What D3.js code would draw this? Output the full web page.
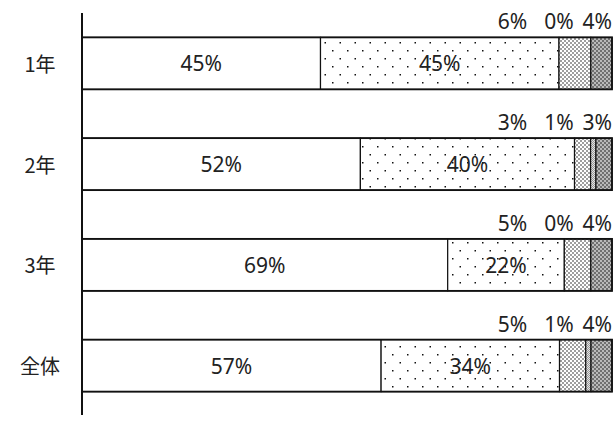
<!DOCTYPE html>
<html><head><meta charset="utf-8">
<script src="https://cdn.jsdelivr.net/npm/d3@7"></script>
<style>
html,body{margin:0;padding:0;background:#fff;}
svg{display:block;}
</style></head>
<body>
<svg id="chart" width="614" height="423"></svg>
<script>
const categories = ["1年", "2年", "3年", "全体"];
const seriesKeys = ["s1", "s2", "s3", "s4", "s5"];
const s1 = [45, 52, 69, 57];
const s2 = [45, 40, 22, 34];
const s3 = [6, 3, 5, 5];
const s4 = [0, 1, 0, 1];
const s5 = [4, 3, 4, 4];
const seriesValues = [s1, s2, s3, s4, s5];

const rows = categories.map((c, i) => {
  const r = {cat: c};
  seriesKeys.forEach((k, j) => r[k] = seriesValues[j][i]);
  return r;
});

const svg = d3.select("#chart");
const defs = svg.append("defs");

// pattern: sparse dots
const p2 = defs.append("pattern").attr("id", "pat2").attr("patternUnits", "userSpaceOnUse")
  .attr("width", 15).attr("height", 16);
p2.append("rect").attr("width", 15).attr("height", 16).attr("fill", "#fff");
p2.append("rect").attr("x", 2).attr("y", 2).attr("width", 1.5).attr("height", 1.5).attr("fill", "#111");
p2.append("rect").attr("x", 9.5).attr("y", 10).attr("width", 1.5).attr("height", 1.5).attr("fill", "#111");

// pattern: dense dots
const p3 = defs.append("pattern").attr("id", "pat3").attr("patternUnits", "userSpaceOnUse")
  .attr("width", 4).attr("height", 4);
p3.append("rect").attr("width", 4).attr("height", 4).attr("fill", "#fff");
p3.append("circle").attr("cx", 1).attr("cy", 1).attr("r", 0.8).attr("fill", "#222");
p3.append("circle").attr("cx", 3).attr("cy", 3).attr("r", 0.8).attr("fill", "#222");

// pattern: light grey grain
const p4 = defs.append("pattern").attr("id", "pat4").attr("patternUnits", "userSpaceOnUse")
  .attr("width", 2).attr("height", 2);
p4.append("rect").attr("width", 2).attr("height", 2).attr("fill", "#e4e4e4");
p4.append("rect").attr("width", 1).attr("height", 1).attr("fill", "#999");
p4.append("rect").attr("x", 1).attr("y", 1).attr("width", 1).attr("height", 1).attr("fill", "#999");

// pattern: dark grey dotted
const p5 = defs.append("pattern").attr("id", "pat5").attr("patternUnits", "userSpaceOnUse")
  .attr("width", 4).attr("height", 4);
p5.append("rect").attr("width", 4).attr("height", 4).attr("fill", "#707070");
p5.append("circle").attr("cx", 1).attr("cy", 1).attr("r", 0.9).attr("fill", "#ddd");
p5.append("circle").attr("cx", 3).attr("cy", 3).attr("r", 0.9).attr("fill", "#ddd");

const fills = ["#fff", "url(#pat2)", "url(#pat3)", "url(#pat4)", "url(#pat5)"];

const x = d3.scaleLinear().domain([0, 1]).range([82, 612]).clamp(true);
const y = d3.scaleBand().domain(categories).range([13, 416])
  .paddingInner(0.484).paddingOuter(0.242);

// rounded percentages: normalise each row to fill the full bar
const stack = d3.stack().keys(seriesKeys).offset(d3.stackOffsetExpand)(rows);

const layers = svg.append("g").selectAll("g").data(stack).join("g")
  .attr("fill", (d, i) => fills[i]);

layers.selectAll("rect").data(d => d).join("rect")
  .attr("x", d => x(d[0]))
  .attr("y", d => y(d.data.cat))
  .attr("width", d => Math.max(0, x(d[1]) - x(d[0])))
  .attr("height", y.bandwidth())
  .attr("stroke", "#111")
  .attr("stroke-width", 1.2);

// outer outline of each bar
svg.append("g").selectAll("rect").data(rows).join("rect")
  .attr("x", x(0)).attr("y", d => y(d.cat))
  .attr("width", x(1) - x(0)).attr("height", y.bandwidth())
  .attr("fill", "none").attr("stroke", "#111").attr("stroke-width", 1.8);

// axis line
svg.append("line").attr("x1", 82).attr("x2", 82)
  .attr("y1", y.range()[0]).attr("y2", y.range()[1] - 1)
  .attr("stroke", "#111").attr("stroke-width", 2);

// category labels
svg.append("g").selectAll("text").data(categories).join("text")
  .attr("x", 40).attr("y", d => y(d) + y.bandwidth() / 2)
  .attr("text-anchor", "middle").attr("dominant-baseline", "central")
  .attr("font-family", "'Noto Sans CJK JP', 'Noto Sans', sans-serif")
  .attr("font-size", 20).attr("fill", "#222")
  .text(d => d);

const font = "'Noto Sans', 'Noto Sans CJK JP', sans-serif";

// in-bar labels for first two series
stack.slice(0, 2).forEach(layer => {
  const key = layer.key;
  svg.append("g").selectAll("text").data(layer).join("text")
    .attr("x", d => (x(d[0]) + x(d[1])) / 2)
    .attr("y", d => y(d.data.cat) + y.bandwidth() / 2)
    .attr("text-anchor", "middle").attr("dominant-baseline", "central")
    .attr("font-family", font).attr("font-size", 21).attr("fill", "#222")
    .text(d => d.data[key] + "%");
});

// labels above bar for small series (anchors as bar fractions)
const aboveAnchor = [0.812, 0.90, 0.972];
stack.slice(2).forEach((layer, j) => {
  const key = layer.key;
  svg.append("g").selectAll("text").data(layer).join("text")
    .attr("x", d => x(aboveAnchor[j]))
    .attr("y", d => y(d.data.cat) - 8)
    .attr("text-anchor", "middle")
    .attr("font-family", font).attr("font-size", 21).attr("fill", "#222")
    .text(d => d.data[key] + "%");
});
</script>
</body></html>
